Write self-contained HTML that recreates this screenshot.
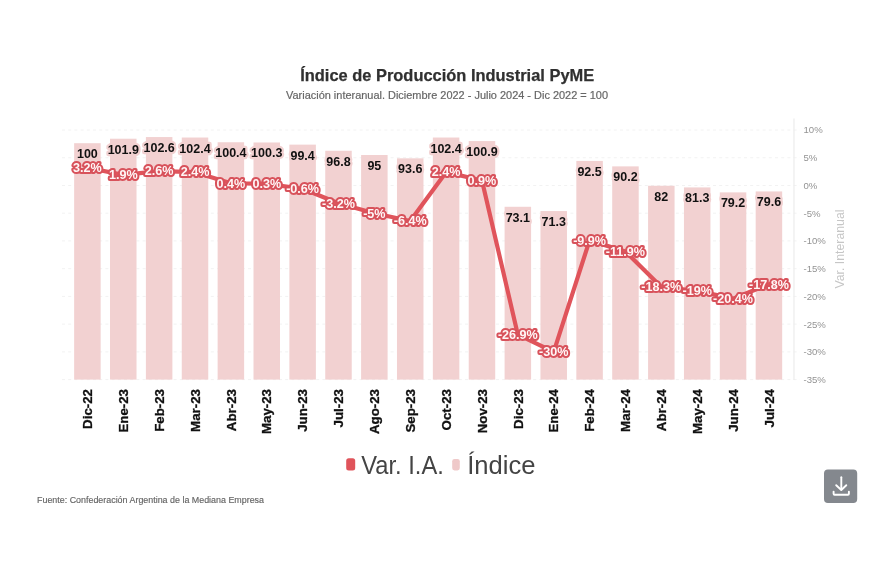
<!DOCTYPE html>
<html lang="es"><head><meta charset="utf-8"><title>Índice de Producción Industrial PyME</title>
<style>
html,body{margin:0;padding:0;background:#fff;}
body{width:870px;height:580px;overflow:hidden;font-family:"Liberation Sans",sans-serif;}
svg{display:block;font-family:"Liberation Sans",sans-serif;filter:blur(0.55px);}
.ttl{font-weight:bold;font-size:16.5px;fill:#303030;stroke:#303030;stroke-width:0.25px;}
.sub{font-size:11.6px;fill:#666;stroke:#666;stroke-width:0.2px;}
.ax{font-size:9.6px;fill:#939393;}
.axt{font-size:12.5px;fill:#c6c6c6;}
.xl{font-weight:bold;font-size:13.3px;fill:#111;stroke:#111;stroke-width:0.3px;}
.bl{font-weight:bold;font-size:12.5px;fill:#111;stroke:#f2d1d1;stroke-width:4.4px;paint-order:stroke fill;stroke-linejoin:round;}
.ll{font-weight:bold;font-size:13px;fill:#fff;stroke:#e0545b;stroke-width:3.2px;paint-order:stroke fill;stroke-linejoin:round;}
.lg{font-size:25px;fill:#444;}
.src{font-size:9.5px;fill:#636363;stroke:#636363;stroke-width:0.15px;}
</style></head><body>
<svg width="870" height="580" viewBox="0 0 870 580">
<rect width="870" height="580" fill="#ffffff"/>
<text class="ttl" x="447.2" y="81.3" text-anchor="middle" textLength="294" lengthAdjust="spacingAndGlyphs">Índice de Producción Industrial PyME</text>
<text class="sub" x="447" y="98.9" text-anchor="middle" textLength="322" lengthAdjust="spacingAndGlyphs">Variación interanual. Diciembre 2022 - Julio 2024 - Dic 2022 = 100</text>
<g stroke="#f2f2f2" stroke-width="1" stroke-dasharray="3 3.2">
<line x1="62" x2="800" y1="130.00" y2="130.00"/>
<line x1="62" x2="800" y1="157.73" y2="157.73"/>
<line x1="62" x2="800" y1="185.47" y2="185.47"/>
<line x1="62" x2="800" y1="213.20" y2="213.20"/>
<line x1="62" x2="800" y1="240.93" y2="240.93"/>
<line x1="62" x2="800" y1="268.67" y2="268.67"/>
<line x1="62" x2="800" y1="296.40" y2="296.40"/>
<line x1="62" x2="800" y1="324.13" y2="324.13"/>
<line x1="62" x2="800" y1="351.87" y2="351.87"/>
<line x1="62" x2="800" y1="379.60" y2="379.60"/>
</g>
<g fill="#f2d1d1">
<rect x="74.15" y="143.20" width="26.50" height="236.40"/>
<rect x="110.02" y="138.71" width="26.50" height="240.89"/>
<rect x="145.89" y="137.05" width="26.50" height="242.55"/>
<rect x="181.76" y="137.53" width="26.50" height="242.07"/>
<rect x="217.63" y="142.25" width="26.50" height="237.35"/>
<rect x="253.50" y="142.49" width="26.50" height="237.11"/>
<rect x="289.37" y="144.62" width="26.50" height="234.98"/>
<rect x="325.24" y="150.76" width="26.50" height="228.84"/>
<rect x="361.11" y="155.02" width="26.50" height="224.58"/>
<rect x="396.98" y="158.33" width="26.50" height="221.27"/>
<rect x="432.85" y="137.53" width="26.50" height="242.07"/>
<rect x="468.72" y="141.07" width="26.50" height="238.53"/>
<rect x="504.59" y="206.79" width="26.50" height="172.81"/>
<rect x="540.46" y="211.05" width="26.50" height="168.55"/>
<rect x="576.33" y="160.93" width="26.50" height="218.67"/>
<rect x="612.20" y="166.37" width="26.50" height="213.23"/>
<rect x="648.07" y="185.75" width="26.50" height="193.85"/>
<rect x="683.94" y="187.41" width="26.50" height="192.19"/>
<rect x="719.81" y="192.37" width="26.50" height="187.23"/>
<rect x="755.68" y="191.43" width="26.50" height="188.17"/>
</g>
<line x1="794" x2="794" y1="118.5" y2="380" stroke="#ececec" stroke-width="1.2"/>
<g class="ax">
<text x="803.5" y="133.40">10%</text>
<text x="803.5" y="161.13">5%</text>
<text x="803.5" y="188.87">0%</text>
<text x="803.5" y="216.60">-5%</text>
<text x="803.5" y="244.33">-10%</text>
<text x="803.5" y="272.07">-15%</text>
<text x="803.5" y="299.80">-20%</text>
<text x="803.5" y="327.53">-25%</text>
<text x="803.5" y="355.27">-30%</text>
<text x="803.5" y="383.00">-35%</text>
</g>
<text class="axt" transform="translate(844.4,249) rotate(-90)" text-anchor="middle" textLength="79" lengthAdjust="spacingAndGlyphs">Var. Interanual</text>
<g class="bl" text-anchor="middle">
<text x="87.40" y="158.20">100</text>
<text x="123.27" y="153.71">101.9</text>
<text x="159.14" y="152.05">102.6</text>
<text x="195.01" y="152.53">102.4</text>
<text x="230.88" y="157.25">100.4</text>
<text x="266.75" y="157.49">100.3</text>
<text x="302.62" y="159.62">99.4</text>
<text x="338.49" y="165.76">96.8</text>
<text x="374.36" y="170.02">95</text>
<text x="410.23" y="173.33">93.6</text>
<text x="446.10" y="152.53">102.4</text>
<text x="481.97" y="156.07">100.9</text>
<text x="517.84" y="221.79">73.1</text>
<text x="553.71" y="226.05">71.3</text>
<text x="589.58" y="175.93">92.5</text>
<text x="625.45" y="181.37">90.2</text>
<text x="661.32" y="200.75">82</text>
<text x="697.19" y="202.41">81.3</text>
<text x="733.06" y="207.37">79.2</text>
<text x="768.93" y="206.43">79.6</text>
</g>
<polyline fill="none" stroke="#e0545b" stroke-width="4.2" stroke-linejoin="round" stroke-linecap="round" points="87.40,167.72 123.27,174.93 159.14,171.05 195.01,172.15 230.88,183.25 266.75,183.80 302.62,188.79 338.49,203.22 374.36,213.20 410.23,220.97 446.10,172.15 481.97,180.47 517.84,334.67 553.71,351.87 589.58,240.38 625.45,251.47 661.32,286.97 697.19,290.85 733.06,298.62 768.93,284.20"/>
<g text-anchor="middle" font-weight="bold" font-size="12.6px">
<text x="87.40" y="172.02" fill="#d8525b" stroke="#d8525b" stroke-width="4.1" stroke-linejoin="round">3.2%</text>
<text x="87.40" y="172.02" fill="#fff6f6">3.2%</text>
<text x="123.27" y="179.23" fill="#d8525b" stroke="#d8525b" stroke-width="4.1" stroke-linejoin="round">1.9%</text>
<text x="123.27" y="179.23" fill="#fff6f6">1.9%</text>
<text x="159.14" y="175.35" fill="#d8525b" stroke="#d8525b" stroke-width="4.1" stroke-linejoin="round">2.6%</text>
<text x="159.14" y="175.35" fill="#fff6f6">2.6%</text>
<text x="195.01" y="176.45" fill="#d8525b" stroke="#d8525b" stroke-width="4.1" stroke-linejoin="round">2.4%</text>
<text x="195.01" y="176.45" fill="#fff6f6">2.4%</text>
<text x="230.88" y="187.55" fill="#d8525b" stroke="#d8525b" stroke-width="4.1" stroke-linejoin="round">0.4%</text>
<text x="230.88" y="187.55" fill="#fff6f6">0.4%</text>
<text x="266.75" y="188.10" fill="#d8525b" stroke="#d8525b" stroke-width="4.1" stroke-linejoin="round">0.3%</text>
<text x="266.75" y="188.10" fill="#fff6f6">0.3%</text>
<text x="302.62" y="193.09" fill="#d8525b" stroke="#d8525b" stroke-width="4.1" stroke-linejoin="round">-0.6%</text>
<text x="302.62" y="193.09" fill="#fff6f6">-0.6%</text>
<text x="338.49" y="207.52" fill="#d8525b" stroke="#d8525b" stroke-width="4.1" stroke-linejoin="round">-3.2%</text>
<text x="338.49" y="207.52" fill="#fff6f6">-3.2%</text>
<text x="374.36" y="217.50" fill="#d8525b" stroke="#d8525b" stroke-width="4.1" stroke-linejoin="round">-5%</text>
<text x="374.36" y="217.50" fill="#fff6f6">-5%</text>
<text x="410.23" y="225.27" fill="#d8525b" stroke="#d8525b" stroke-width="4.1" stroke-linejoin="round">-6.4%</text>
<text x="410.23" y="225.27" fill="#fff6f6">-6.4%</text>
<text x="446.10" y="176.45" fill="#d8525b" stroke="#d8525b" stroke-width="4.1" stroke-linejoin="round">2.4%</text>
<text x="446.10" y="176.45" fill="#fff6f6">2.4%</text>
<text x="481.97" y="184.77" fill="#d8525b" stroke="#d8525b" stroke-width="4.1" stroke-linejoin="round">0.9%</text>
<text x="481.97" y="184.77" fill="#fff6f6">0.9%</text>
<text x="517.84" y="338.97" fill="#d8525b" stroke="#d8525b" stroke-width="4.1" stroke-linejoin="round">-26.9%</text>
<text x="517.84" y="338.97" fill="#fff6f6">-26.9%</text>
<text x="553.71" y="356.17" fill="#d8525b" stroke="#d8525b" stroke-width="4.1" stroke-linejoin="round">-30%</text>
<text x="553.71" y="356.17" fill="#fff6f6">-30%</text>
<text x="589.58" y="244.68" fill="#d8525b" stroke="#d8525b" stroke-width="4.1" stroke-linejoin="round">-9.9%</text>
<text x="589.58" y="244.68" fill="#fff6f6">-9.9%</text>
<text x="625.45" y="255.77" fill="#d8525b" stroke="#d8525b" stroke-width="4.1" stroke-linejoin="round">-11.9%</text>
<text x="625.45" y="255.77" fill="#fff6f6">-11.9%</text>
<text x="661.32" y="291.27" fill="#d8525b" stroke="#d8525b" stroke-width="4.1" stroke-linejoin="round">-18.3%</text>
<text x="661.32" y="291.27" fill="#fff6f6">-18.3%</text>
<text x="697.19" y="295.15" fill="#d8525b" stroke="#d8525b" stroke-width="4.1" stroke-linejoin="round">-19%</text>
<text x="697.19" y="295.15" fill="#fff6f6">-19%</text>
<text x="733.06" y="302.92" fill="#d8525b" stroke="#d8525b" stroke-width="4.1" stroke-linejoin="round">-20.4%</text>
<text x="733.06" y="302.92" fill="#fff6f6">-20.4%</text>
<text x="768.93" y="288.50" fill="#d8525b" stroke="#d8525b" stroke-width="4.1" stroke-linejoin="round">-17.8%</text>
<text x="768.93" y="288.50" fill="#fff6f6">-17.8%</text>
</g>
<g class="xl" text-anchor="end">
<text transform="translate(92.10,389) rotate(-90)">Dic-22</text>
<text transform="translate(127.97,389) rotate(-90)">Ene-23</text>
<text transform="translate(163.84,389) rotate(-90)">Feb-23</text>
<text transform="translate(199.71,389) rotate(-90)">Mar-23</text>
<text transform="translate(235.58,389) rotate(-90)">Abr-23</text>
<text transform="translate(271.45,389) rotate(-90)">May-23</text>
<text transform="translate(307.32,389) rotate(-90)">Jun-23</text>
<text transform="translate(343.19,389) rotate(-90)">Jul-23</text>
<text transform="translate(379.06,389) rotate(-90)">Ago-23</text>
<text transform="translate(414.93,389) rotate(-90)">Sep-23</text>
<text transform="translate(450.80,389) rotate(-90)">Oct-23</text>
<text transform="translate(486.67,389) rotate(-90)">Nov-23</text>
<text transform="translate(522.54,389) rotate(-90)">Dic-23</text>
<text transform="translate(558.41,389) rotate(-90)">Ene-24</text>
<text transform="translate(594.28,389) rotate(-90)">Feb-24</text>
<text transform="translate(630.15,389) rotate(-90)">Mar-24</text>
<text transform="translate(666.02,389) rotate(-90)">Abr-24</text>
<text transform="translate(701.89,389) rotate(-90)">May-24</text>
<text transform="translate(737.76,389) rotate(-90)">Jun-24</text>
<text transform="translate(773.63,389) rotate(-90)">Jul-24</text>
</g>
<rect x="346.2" y="458.2" width="9" height="12.2" rx="2.5" fill="#e0545b"/>
<text class="lg" x="361.3" y="473.6" textLength="82.5" lengthAdjust="spacingAndGlyphs">Var. I.A.</text>
<rect x="452.2" y="459" width="7.6" height="11.4" rx="2.3" fill="#efc9c9"/>
<text class="lg" x="467.2" y="473.6" textLength="68.3" lengthAdjust="spacingAndGlyphs">Índice</text>
<text class="src" x="37" y="503" textLength="227" lengthAdjust="spacingAndGlyphs">Fuente: Confederación Argentina de la Mediana Empresa</text>
<rect x="824" y="469.5" width="33.2" height="33.5" rx="3.9" fill="#84888e"/>
<g fill="none" stroke="#ffffff" stroke-width="1.9" stroke-linecap="round" stroke-linejoin="round">
<path d="M841.3 477.2V489.6"/>
<path d="M836.2 485.2L841.3 490L846.3 485.2"/>
<path d="M833.6 491.6V493.8Q833.6 494.7 834.5 494.7H848Q848.9 494.7 848.9 493.8V491.6"/>
</g>
</svg>
</body></html>
